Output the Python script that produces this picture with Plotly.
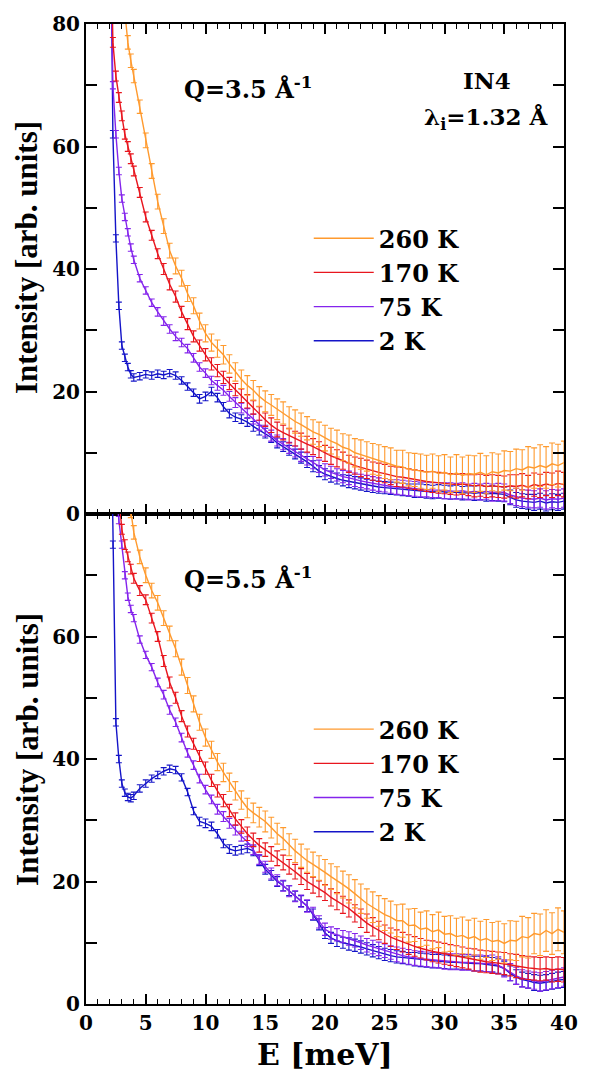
import plotly.graph_objects as go

# ---------------- data ----------------
E = [2.0, 2.25, 2.5, 2.75, 3.0, 3.25, 3.5, 3.75, 4.0,
     4.5, 5.0, 5.5, 6.0, 6.5, 7.0, 7.5, 8.0, 8.5, 9.0, 9.5, 10.0,
     10.5, 11.0, 11.5, 12.0, 12.5, 13.0, 13.5, 14.0, 14.5, 15.0,
     15.5, 16.0, 16.5, 17.0, 17.5, 18.0, 18.5, 19.0, 19.5, 20.0,
     20.5, 21.0, 21.5, 22.0, 22.5, 23.0, 23.5, 24.0, 24.5, 25.0,
     25.5, 26.0, 26.5, 27.0, 27.5, 28.0, 28.5, 29.0, 29.5, 30.0,
     30.5, 31.0, 31.5, 32.0, 32.5, 33.0, 33.5, 34.0, 34.5, 35.0,
     35.5, 36.0, 36.5, 37.0, 37.5, 38.0, 38.5, 39.0, 39.5, 40.0]

temps = ["2 K", "75 K", "170 K", "260 K"]
colors = ["#1414c8", "#8424ec", "#e8161e", "#ff9a2e"]

# Q = 3.5 1/A  (top panel)
top_2K = [110, 62, 45, 34, 27.5, 25.5, 24.0, 22.8, 22.3,
          22.5, 22.8, 22.6, 22.9, 22.7, 23.0, 22.6, 21.8, 20.8, 19.8, 18.8, 19.2,
          20.0, 19.0, 17.5, 16.4, 15.8, 15.5, 15.0, 14.3, 13.7, 13.2,
          12.5, 11.6, 11.0, 10.4, 9.8, 9.2, 8.5, 7.8, 7.0, 6.5,
          6.1, 5.8, 5.5, 5.3, 5.1, 4.9, 4.7, 4.5, 4.4, 4.3,
          4.2, 4.1, 4.0, 3.9, 3.8, 3.8, 3.7, 3.6, 3.7, 3.6,
          3.5, 3.6, 3.4, 3.5, 3.4, 3.5, 3.3, 3.4, 3.3, 3.2,
          2.7, 2.3, 2.1, 2.0, 1.9, 2.1, 1.8, 2.0, 1.9, 2.1]
top_75K = [100, 70, 62, 56, 51.5, 48.5, 46, 43.5, 41.5,
           38.5, 36.5, 34.5, 33, 31.5, 30.2, 29, 28, 27, 25.5, 24, 23,
           21.8, 21.0, 20.2, 19.2, 18.2, 17.3, 16.4, 15.5, 14.5, 13.6,
           12.8, 12.0, 11.4, 10.8, 10.2, 9.6, 9.0, 8.4, 7.8, 7.2,
           6.8, 6.4, 6.1, 5.9, 5.6, 5.4, 5.2, 5.0, 4.8, 4.7,
           4.5, 4.4, 4.3, 4.2, 4.1, 4.0, 4.0, 3.9, 3.9, 3.8,
           3.8, 3.7, 3.8, 3.6, 3.7, 3.6, 3.7, 3.5, 3.6, 3.5,
           3.1, 2.8, 2.6, 2.5, 2.4, 2.6, 2.3, 2.5, 2.4, 2.6]
top_170K = [105, 77, 71.5, 68, 65, 62, 60, 58, 56,
            52.5, 48.5, 45.5, 42.5, 40, 37.5, 35.5, 33, 31, 29, 27.5, 26,
            24.5, 23.4, 22.3, 21.3, 20.3, 19.3, 18.4, 17.4, 16.4, 15.4,
            14.5, 13.8, 13.3, 12.8, 12.3, 11.9, 11.4, 11.0, 10.5, 9.9,
            9.5, 9.1, 8.7, 8.2, 7.9, 7.6, 7.3, 7.0, 6.8, 6.6,
            6.3, 6.1, 6.0, 5.8, 5.6, 5.5, 5.3, 5.2, 5.1, 5.0,
            4.9, 4.8, 4.9, 4.7, 4.6, 4.7, 4.5, 4.6, 4.5, 4.4,
            4.6, 4.5, 4.7, 4.4, 4.8, 4.6, 4.9, 4.7, 5.0, 4.8]
top_260K = [130, 118, 106, 96, 88, 82, 77, 74, 71.5,
            66.5, 61, 56, 51, 47, 43, 40.5, 38.5, 36, 34, 31.5, 29.5,
            28, 27, 26, 24.5, 23.2, 22, 21, 20.2, 19.2, 18.4,
            17.8, 17.1, 16.5, 15.7, 15.1, 14.6, 14.0, 13.4, 13.0, 12.4,
            11.9, 11.5, 10.9, 10.6, 10.0, 9.7, 9.4, 9.0, 8.8, 8.4,
            8.2, 7.8, 7.7, 7.3, 7.2, 7.0, 6.8, 7.0, 6.6, 6.8,
            6.4, 6.7, 6.3, 6.6, 6.5, 6.8, 6.4, 6.9, 6.7, 7.1,
            7.0, 7.4, 7.2, 7.7, 7.5, 7.9, 7.6, 8.2, 7.9, 8.4]

# Q = 5.5 1/A  (bottom panel)
bot_2K = [110, 75, 46, 40, 36, 34.5, 33.8, 33.6, 34.0,
          35.2, 36.0, 36.8, 37.4, 38.0, 38.4, 38.2, 37.0, 34.6, 31.5, 29.8, 29.5,
          29.0, 27.8, 26.2, 25.3, 25.0, 25.2, 25.4, 25.0, 23.4, 22.0,
          21.0, 20.0, 19.3, 18.5, 17.6, 16.8, 16.0, 14.6, 13.0, 11.6,
          10.8, 10.3, 10.0, 9.8, 9.6, 9.3, 9.0, 8.7, 8.4, 8.1,
          7.9, 7.7, 7.6, 7.4, 7.3, 7.2, 7.1, 7.0, 7.0, 6.9,
          6.8, 6.8, 6.7, 6.7, 6.6, 6.6, 6.5, 6.4, 6.2, 5.8,
          5.0, 4.4, 4.0, 3.8, 3.5, 3.4, 3.5, 3.7, 3.9, 4.0]
bot_75K = [110, 95, 85, 79, 75, 70, 66.5, 64.5, 63,
           59.5, 57, 55, 52.5, 50.5, 48, 46, 43.5, 41, 39, 36.8, 35,
           33.4, 31.8, 30.6, 29.5, 28.4, 27.4, 26.5, 25.2, 23.6, 22.4,
           21.3, 20.2, 19.3, 18.4, 17.6, 16.8, 16.0, 14.8, 13.4, 12.2,
           11.6, 11.3, 11.0, 10.7, 10.4, 10.0, 9.6, 9.3, 9.0, 8.7,
           8.4, 8.1, 7.9, 7.7, 7.5, 7.4, 7.3, 7.2, 7.1, 7.0,
           6.9, 6.9, 6.8, 6.8, 6.7, 6.7, 6.6, 6.6, 6.3, 5.8,
           5.2, 4.6, 4.2, 4.0, 3.8, 3.6, 3.8, 4.0, 4.2, 4.4]
bot_170K = [120, 104, 92, 83, 77.5, 75, 73, 71, 69.5,
            67.5, 66, 63, 60, 56, 52.5, 50, 47, 44.5, 42.5, 40.5, 38.5,
            36.5, 34.8, 33.2, 31.6, 30.2, 29.0, 27.8, 26.8, 25.9, 25.2,
            24.5, 23.8, 23.1, 22.4, 21.6, 20.8, 20.0, 19.4, 18.8, 18.2,
            17.4, 16.8, 16.2, 15.6, 14.8, 14.0, 13.2, 12.6, 12.0, 11.4,
            10.9, 10.5, 10.1, 9.7, 9.4, 9.1, 8.8, 8.6, 8.4, 8.2,
            8.0, 7.8, 7.6, 7.4, 7.2, 7.0, 6.9, 6.8, 6.7, 6.6,
            6.4, 6.2, 6.0, 5.9, 5.8, 5.7, 5.8, 5.6, 5.7, 5.6]
bot_260K = [140, 128, 116, 106, 98, 91, 85, 80.5, 77,
            73, 70, 67.5, 65.5, 63, 60.5, 58, 55, 52, 49, 46, 43.5,
            41.5, 39.5, 37.8, 36.2, 34.8, 33.3, 32.0, 31.2, 30.5, 29.8,
            28.8, 27.8, 27.0, 26.0, 25.0, 24.2, 23.4, 22.8, 22.2, 21.5,
            20.8, 20.2, 19.5, 18.8, 18.0, 17.2, 16.4, 15.8, 15.2, 14.6,
            14.2, 13.6, 13.6, 12.8, 12.9, 12.2, 12.4, 11.8, 12.1, 11.4,
            11.5, 11.0, 11.2, 10.7, 11.0, 10.4, 10.7, 10.2, 10.4, 9.9,
            10.4, 10.3, 11.0, 10.8, 11.5, 11.3, 12.0, 11.5, 12.2, 11.7]

# error bars
err_2K = [0.6, 0.6, 0.6, 0.6, 0.6, 0.6, 0.6, 0.6, 0.6,
          0.6, 0.6, 0.6, 0.6, 0.6, 0.6, 0.6, 0.6, 0.6, 0.6, 0.7, 0.7,
          0.7, 0.7, 0.7, 0.7, 0.7, 0.7, 0.7, 0.8, 0.8, 0.8,
          0.8, 0.8, 0.8, 0.8, 0.8, 0.9, 0.9, 0.9, 0.9, 0.9,
          0.9, 0.9, 0.9, 1.0, 1.0, 1.0, 1.0, 1.0, 1.0, 1.0,
          1.0, 1.0, 1.0, 1.0, 1.1, 1.1, 1.1, 1.1, 1.1, 1.1,
          1.1, 1.1, 1.1, 1.1, 1.2, 1.2, 1.2, 1.2, 1.2, 1.2,
          1.2, 1.2, 1.2, 1.2, 1.3, 1.3, 1.3, 1.3, 1.3, 1.3]
err_75K = [0.6, 0.6, 0.6, 0.6, 0.6, 0.6, 0.6, 0.6, 0.6,
           0.6, 0.6, 0.6, 0.7, 0.7, 0.7, 0.7, 0.7, 0.7, 0.7, 0.7, 0.7,
           0.7, 0.8, 0.8, 0.8, 0.8, 0.8, 0.8, 0.8, 0.8, 0.9,
           0.9, 0.9, 0.9, 0.9, 0.9, 1.0, 1.0, 1.0, 1.0, 1.0,
           1.0, 1.0, 1.0, 1.1, 1.1, 1.1, 1.1, 1.1, 1.1, 1.1,
           1.1, 1.2, 1.2, 1.2, 1.2, 1.2, 1.2, 1.2, 1.2, 1.3,
           1.3, 1.3, 1.3, 1.3, 1.3, 1.3, 1.3, 1.4, 1.4, 1.4,
           1.4, 1.4, 1.4, 1.4, 1.4, 1.5, 1.5, 1.5, 1.5, 1.5]
err_170K = [0.8, 0.8, 0.8, 0.8, 0.8, 0.8, 0.8, 0.8, 0.8,
            0.8, 0.8, 0.8, 0.8, 0.9, 0.9, 0.9, 0.9, 0.9, 0.9, 0.9, 1.0,
            1.0, 1.0, 1.0, 1.0, 1.0, 1.1, 1.1, 1.1, 1.1, 1.1,
            1.2, 1.2, 1.2, 1.2, 1.2, 1.3, 1.3, 1.3, 1.3, 1.3,
            1.4, 1.4, 1.4, 1.4, 1.4, 1.5, 1.5, 1.5, 1.5, 1.5,
            1.5, 1.6, 1.6, 1.6, 1.6, 1.6, 1.6, 1.7, 1.7, 1.7,
            1.7, 1.7, 1.7, 1.7, 1.8, 1.8, 1.8, 1.8, 1.8, 1.8,
            1.8, 1.9, 1.9, 1.9, 1.9, 1.9, 1.9, 2.0, 2.0, 2.0]
err_260K = [1.0, 1.0, 1.0, 1.0, 1.0, 1.1, 1.1, 1.1, 1.1,
            1.1, 1.2, 1.2, 1.2, 1.2, 1.2, 1.3, 1.3, 1.3, 1.3, 1.3, 1.4,
            1.4, 1.4, 1.5, 1.5, 1.5, 1.5, 1.6, 1.6, 1.6, 1.7,
            1.7, 1.7, 1.8, 1.8, 1.9, 1.9, 1.9, 2.0, 2.0, 2.1,
            2.1, 2.2, 2.2, 2.3, 2.3, 2.4, 2.4, 2.5, 2.5, 2.6,
            2.6, 2.6, 2.7, 2.7, 2.7, 2.8, 2.8, 2.8, 2.9, 2.9,
            2.9, 3.0, 3.0, 3.0, 3.0, 3.1, 3.1, 3.1, 3.1, 3.2,
            3.2, 3.2, 3.3, 3.3, 3.3, 3.4, 3.4, 3.4, 3.5, 3.5]

top_series = [top_2K, top_75K, top_170K, top_260K]
bot_series = [bot_2K, bot_75K, bot_170K, bot_260K]
errors = [err_2K, err_75K, err_170K, err_260K]

top_major = [0, 20, 40, 60, 80]
bot_major = [0, 20, 40, 60]
y_minor = [10, 30, 50, 70]

# ---------------- figure ----------------
fig = go.Figure()

for series, xa, ya, lg in [(top_series, "x", "y", "legend"),
                           (bot_series, "x2", "y2", "legend2")]:
    for name, vals, err, col in zip(temps, series, errors, colors):
        fig.add_trace(go.Scatter(
            x=E, y=vals, mode="lines", name=name,
            line=dict(color=col, width=1.4),
            error_y=dict(type="data", array=err, visible=True,
                         color=col, thickness=1.1, width=3),
            xaxis=xa, yaxis=ya, legend=lg,
        ))

tickfont = dict(family="DejaVu Serif", size=20, color="black", weight="bold")
common_x = dict(range=[0, 40], showline=True, linewidth=2, linecolor="black",
                mirror="ticks", ticks="inside", ticklen=10, tickwidth=1.5,
                tickcolor="black", dtick=5, tick0=0, showgrid=False,
                zeroline=False, tickfont=tickfont, ticklabeloverflow="allow",
                minor=dict(dtick=1, ticks="inside", ticklen=5, tickwidth=1,
                           tickcolor="black"))
common_y = dict(range=[0, 80], showline=True, linewidth=2, linecolor="black",
                mirror="ticks", ticks="inside", ticklen=11, tickwidth=1.5,
                tickcolor="black", showgrid=False, ticklabeloverflow="allow",
                zeroline=False, tickfont=tickfont,
                minor=dict(tickvals=y_minor, ticks="inside", ticklen=11,
                           tickwidth=1.5, tickcolor="black"))

legfont = dict(family="DejaVu Serif", size=24, color="black", weight="bold")

fig.update_layout(
    width=590, height=1076,
    margin=dict(l=86, r=13, t=23, b=72),
    paper_bgcolor="white", plot_bgcolor="white",
    showlegend=True,
    xaxis=dict(common_x, domain=[0, 1], anchor="y", showticklabels=False),
    yaxis=dict(common_y, domain=[0.5, 1], anchor="x", tickvals=top_major),
    xaxis2=dict(common_x, domain=[0, 1], anchor="y2", matches="x"),
    yaxis2=dict(common_y, domain=[0, 0.5], anchor="x2", tickvals=bot_major),
    legend=dict(x=0.466, y=0.804, xanchor="left", yanchor="top",
                bgcolor="rgba(0,0,0,0)", font=legfont, traceorder="reversed",
                itemwidth=60),
    legend2=dict(x=0.466, y=0.303, xanchor="left", yanchor="top",
                 bgcolor="rgba(0,0,0,0)", font=legfont, traceorder="reversed",
                 itemwidth=60),
)

ann_font = dict(family="DejaVu Serif", size=24, color="black", weight="bold")
title_font = dict(family="Liberation Serif", size=31, color="black", weight="bold")
annotations = [
    dict(text="Q=3.5 Å<sup>-1</sup>", x=0.2016, y=0.935, xanchor="left", yanchor="middle", font=ann_font),
    dict(text="IN4", x=0.839, y=0.942, xanchor="center", yanchor="middle", font=dict(ann_font, size=23)),
    dict(text="λ<sub>i</sub>=1.32 Å", x=0.837, y=0.904, xanchor="center", yanchor="middle", font=dict(ann_font, size=23)),
    dict(text="Q=5.5 Å<sup>-1</sup>", x=0.2016, y=0.435, xanchor="left", yanchor="middle", font=ann_font),
    dict(text="Intensity [arb. units]", x=-0.124, y=0.762, xanchor="center", yanchor="middle",
         textangle=-90, font=title_font),
    dict(text="Intensity [arb. units]", x=-0.124, y=0.26, xanchor="center", yanchor="middle",
         textangle=-90, font=title_font),
    dict(text="E [meV]", x=0.5, y=-0.052, xanchor="center", yanchor="middle",
         font=dict(ann_font, size=30)),
]
for a in annotations:
    a.update(xref="paper", yref="paper", showarrow=False)
fig.update_layout(annotations=annotations)

fig.write_html("out.html")
